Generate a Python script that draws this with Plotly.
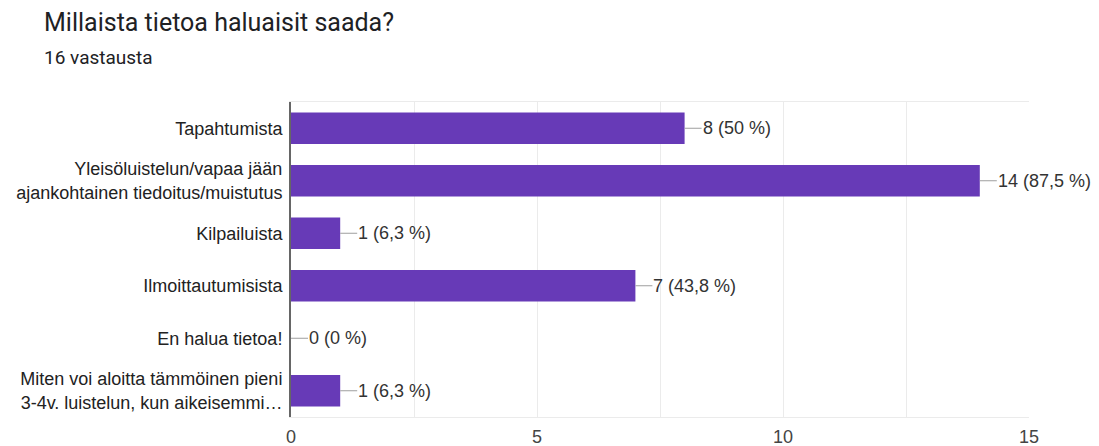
import plotly.graph_objects as go

title = "Millaista tietoa haluaisit saada?"
subtitle = "16 vastausta"
categories = [
    "Tapahtumista",
    "Yleisöluistelun/vapaa jään<br>ajankohtainen tiedoitus/muistutus",
    "Kilpailuista",
    "Ilmoittautumisista",
    "En halua tietoa!",
    "Miten voi aloitta tämmöinen pieni<br>3-4v. luistelun, kun aikeisemmi…",
]
counts = [8, 14, 1, 7, 0, 1]
value_labels = ["8 (50 %)", "14 (87,5 %)", "1 (6,3 %)", "7 (43,8 %)", "0 (0 %)", "1 (6,3 %)"]
x_ticks = [0, 5, 10, 15]

BAR = "#673ab7"
LABEL_FONT = "Arial, Liberation Sans, sans-serif"

# page body offset of 8px compensated in margins
L, R, T, B = 283, 78, 94, 37
PW, PH = 1099 - L - R, 446 - T - B

fig = go.Figure()
fig.add_trace(go.Bar(
    x=counts, y=categories, orientation="h",
    marker=dict(color=BAR, line=dict(width=0)),
    width=0.6, hoverinfo="skip",
))

for c, v, lab in zip(categories, counts, value_labels):
    fig.add_annotation(
        x=v, y=c, xref="x", yref="y", text=lab,
        showarrow=True, arrowhead=0, arrowwidth=1, arrowcolor="#9e9e9e",
        ax=17, ay=0, xanchor="left", standoff=0, borderpad=0,
        font=dict(family=LABEL_FONT, size=18, color="#333333"),
    )

fig.add_annotation(
    text=title, xref="paper", yref="paper", x=(34 - L) / PW, y=1 + (T - 14) / PH,
    xanchor="left", yanchor="middle", showarrow=False,
    font=dict(family="Roboto, sans-serif", size=25, color="#202124"),
)
fig.add_annotation(
    text=subtitle, xref="paper", yref="paper", x=(34 - L) / PW, y=1 + (T - 49) / PH,
    xanchor="left", yanchor="middle", showarrow=False,
    font=dict(family="Roboto, sans-serif", size=19, color="#202124"),
)

fig.update_layout(
    width=1099, height=446,
    margin=dict(l=L, r=R, t=T, b=B, autoexpand=False),
    paper_bgcolor="white", plot_bgcolor="white",
    showlegend=False,
    bargap=0.4,
    xaxis=dict(
        range=[0, 15], tickvals=x_ticks, ticktext=[str(t) for t in x_ticks],
        showgrid=True, gridcolor="#ebebeb", gridwidth=1,
        minor=dict(dtick=2.5, tick0=0, showgrid=True, gridcolor="#ebebeb"),
        showline=True, linecolor="#ebebeb", linewidth=1, mirror=True,
        zeroline=False, ticks="", ticklen=0, ticklabelstandoff=3,
        automargin=False,
        tickfont=dict(family=LABEL_FONT, size=18, color="#444444"),
        fixedrange=True,
    ),
    yaxis=dict(
        categoryorder="array", categoryarray=categories, autorange="reversed",
        showgrid=False, showline=True, linecolor="#666666", linewidth=2,
        ticks="", ticklen=0, ticklabelstandoff=3, automargin=False,
        tickfont=dict(family=LABEL_FONT, size=18, color="#222222"),
        fixedrange=True,
    ),
)

fig.write_html("out.html")
